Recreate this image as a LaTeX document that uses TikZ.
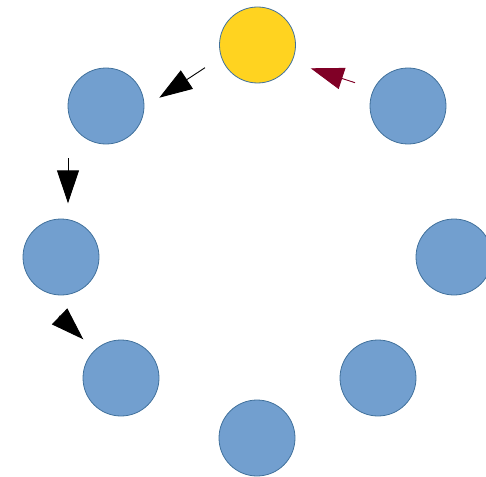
\documentclass[tikz,border=0pt]{standalone}
\usetikzlibrary{arrows.meta}
\definecolor{cblue}{RGB}{114,159,207}
\definecolor{cedge}{RGB}{65,113,156}
\definecolor{cyel}{RGB}{255,211,32}
\definecolor{cred}{RGB}{128,0,38}
\begin{document}
\begin{tikzpicture}[x=1pt,y=-1pt,
  ball/.style={circle,draw=cedge,line width=0.8pt,fill=cblue,minimum size=76pt,inner sep=0pt},
  sun/.style={ball,fill=cyel},
  conn/.style={line width=0.9pt,-{Triangle[length=33pt,width=22pt]}}]
\useasboundingbox (0,0) rectangle (486,476);
\begin{scope}
\clip (0,0) rectangle (486,476);
\node[sun]  (c0) at (257.5,45) {};
\node[ball] (c1) at (106,106) {};
\node[ball] (c2) at (61,257) {};
\node[ball] (c3) at (121,378) {};
\node[ball] (c4) at (257,438) {};
\node[ball] (c5) at (378,378) {};
\node[ball] (c6) at (454,257) {};
\node[ball] (c7) at (408,106) {};
\end{scope}
\coordinate (a1s) at (205,67.7);
\coordinate (a1e) at (159.3,97.7);
\coordinate (a2s) at (68,158);
\coordinate (a2e) at (68,203.3);
\coordinate (a3s) at (59.2,316);
\coordinate (a3e) at (83.3,339.3);
\coordinate (a4s) at (355,82.7);
\coordinate (a4e) at (310.7,68.3);
\draw[conn] (a1s) -- (a1e);
\draw[conn] (a2s) -- (a2e);
\draw[conn] (a3s) -- (a3e);
\draw[conn,draw=cred,fill=cred] (a4s) -- (a4e);
\end{tikzpicture}
\end{document}
